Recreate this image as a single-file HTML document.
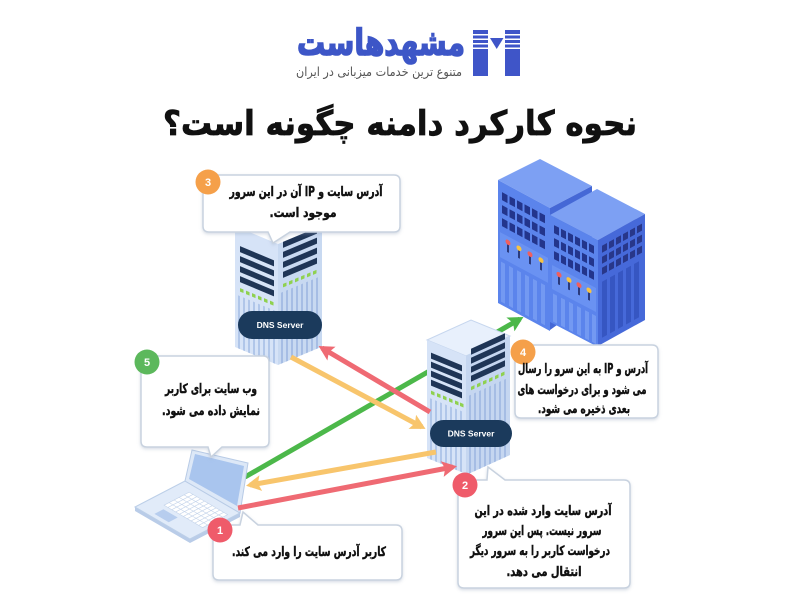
<!DOCTYPE html>
<html><head><meta charset="utf-8">
<style>
html,body{margin:0;padding:0;background:#fff;width:800px;height:600px;overflow:hidden}
svg{display:block}
.fa{font-family:"DejaVu Sans",sans-serif;font-weight:bold;direction:rtl;unicode-bidi:embed}
.bt{font-size:13px;fill:#111;stroke:#111;stroke-width:0.45}
.num{font-family:"Liberation Sans",sans-serif;font-weight:bold;font-size:11px;fill:#fff}
.dns{font-family:"Liberation Sans",sans-serif;font-weight:bold;font-size:8.5px;fill:#fff}
</style></head><body>
<svg width="800" height="600" viewBox="0 0 800 600" xmlns="http://www.w3.org/2000/svg">
<defs>
<marker id="mg" markerWidth="18" markerHeight="18" refX="11" refY="8" orient="auto" markerUnits="userSpaceOnUse"><path d="M0,0 L15,8 L0,16 L3,8 z" fill="#4cb84a"/></marker>
<marker id="mr" markerWidth="18" markerHeight="18" refX="11" refY="8" orient="auto" markerUnits="userSpaceOnUse"><path d="M0,0 L15,8 L0,16 L3,8 z" fill="#ef6a73"/></marker>
<marker id="my" markerWidth="18" markerHeight="18" refX="11" refY="8" orient="auto" markerUnits="userSpaceOnUse"><path d="M0,0 L15,8 L0,16 L3,8 z" fill="#f8c56c"/></marker>
<filter id="sh" x="-10%" y="-10%" width="120%" height="130%"><feDropShadow dx="0" dy="1.5" stdDeviation="1.5" flood-color="#8a9ab5" flood-opacity="0.35"/></filter>
</defs>

<!-- Logo -->
<g fill="#3f55c8">
  <rect x="473" y="30" width="15" height="4"/>
  <rect x="473" y="35.5" width="15" height="3"/>
  <rect x="473" y="40" width="15" height="3"/>
  <rect x="473" y="44.5" width="15" height="3"/>
  <rect x="473" y="49" width="15" height="27"/>
  <rect x="505" y="30" width="15" height="4"/>
  <rect x="505" y="35.5" width="15" height="3"/>
  <rect x="505" y="40" width="15" height="3"/>
  <rect x="505" y="44.5" width="15" height="3"/>
  <rect x="505" y="49" width="15" height="27"/>
  <polygon points="490,38 503.5,38 496.7,49"/>
</g>
<text class="fa" x="381" y="55" font-size="36" fill="#3d56c7" stroke="#3d56c7" stroke-width="1.6" text-anchor="middle" textLength="168" lengthAdjust="spacingAndGlyphs">مشهدهاست</text>
<text class="fa" x="379" y="76" font-size="12.5" fill="#555" style="font-weight:normal" text-anchor="middle" textLength="166" lengthAdjust="spacingAndGlyphs">متنوع ترین خدمات میزبانی در ایران</text>

<!-- Title -->
<text class="fa" x="400" y="135" font-size="34" fill="#111" stroke="#111" stroke-width="0.8" text-anchor="middle" textLength="474" lengthAdjust="spacingAndGlyphs">نحوه کارکرد دامنه چگونه است؟</text>

<!-- Big blue servers -->
<polygon points="498,180 540,159 592,186 550,208" fill="#7da0f3"/>
<polygon points="550,208 592,186 592,300 550,330" fill="#4568d6"/>
<g transform="translate(498,180) skewY(28.3)">
  <rect x="0" y="0" width="52" height="123" fill="#5b84ec"/>
  <g fill="#23358c">
    <rect x="4" y="10" width="5.5" height="8"/><rect x="11.5" y="10" width="5.5" height="8"/><rect x="19" y="10" width="5.5" height="8"/><rect x="26.5" y="10" width="5.5" height="8"/><rect x="34" y="10" width="5.5" height="8"/><rect x="41.5" y="10" width="5.5" height="8"/>
    <rect x="4" y="23" width="5.5" height="8"/><rect x="11.5" y="23" width="5.5" height="8"/><rect x="19" y="23" width="5.5" height="8"/><rect x="26.5" y="23" width="5.5" height="8"/><rect x="34" y="23" width="5.5" height="8"/><rect x="41.5" y="23" width="5.5" height="8"/>
    <rect x="4" y="36" width="5.5" height="8"/><rect x="11.5" y="36" width="5.5" height="8"/><rect x="19" y="36" width="5.5" height="8"/><rect x="26.5" y="36" width="5.5" height="8"/><rect x="34" y="36" width="5.5" height="8"/><rect x="41.5" y="36" width="5.5" height="8"/>
  </g>
  <rect x="2" y="51" width="48" height="25" fill="#6a92f2"/>
  <g fill="#1b2560"><rect x="9.2" y="58" width="1.6" height="9"/><rect x="20.2" y="58" width="1.6" height="9"/><rect x="31.2" y="58" width="1.6" height="9"/><rect x="42.2" y="58" width="1.6" height="9"/></g>
  <circle cx="10" cy="57" r="2.5" fill="#f0605f"/><circle cx="21" cy="57" r="2.5" fill="#f6c344"/><circle cx="32" cy="57" r="2.5" fill="#f0605f"/><circle cx="43" cy="57" r="2.5" fill="#f6c344"/>
  <g fill="#7399f2"><rect x="3" y="80" width="4" height="40"/><rect x="11" y="80" width="4" height="40"/><rect x="19" y="80" width="4" height="40"/><rect x="27" y="80" width="4" height="40"/><rect x="35" y="80" width="4" height="40"/><rect x="43" y="80" width="4" height="40"/></g>
</g>
<polygon points="550,215 597,189 645,214 598,240" fill="#7da0f3"/>
<g transform="translate(550,215) skewY(27.5)">
  <rect x="0" y="0" width="48" height="107" fill="#5b84ec"/>
  <g fill="#23358c">
    <rect x="4" y="8" width="5" height="8"/><rect x="11" y="8" width="5" height="8"/><rect x="18" y="8" width="5" height="8"/><rect x="25" y="8" width="5" height="8"/><rect x="32" y="8" width="5" height="8"/><rect x="39" y="8" width="5" height="8"/>
    <rect x="4" y="21" width="5" height="8"/><rect x="11" y="21" width="5" height="8"/><rect x="18" y="21" width="5" height="8"/><rect x="25" y="21" width="5" height="8"/><rect x="32" y="21" width="5" height="8"/><rect x="39" y="21" width="5" height="8"/>
    <rect x="4" y="34" width="5" height="8"/><rect x="11" y="34" width="5" height="8"/><rect x="18" y="34" width="5" height="8"/><rect x="25" y="34" width="5" height="8"/><rect x="32" y="34" width="5" height="8"/><rect x="39" y="34" width="5" height="8"/>
  </g>
  <rect x="2" y="49" width="44" height="24" fill="#6a92f2"/>
  <g fill="#1b2560"><rect x="8.2" y="56" width="1.6" height="9"/><rect x="18.2" y="56" width="1.6" height="9"/><rect x="28.2" y="56" width="1.6" height="9"/><rect x="38.2" y="56" width="1.6" height="9"/></g>
  <circle cx="9" cy="55" r="2.5" fill="#f0605f"/><circle cx="19" cy="55" r="2.5" fill="#f6c344"/><circle cx="29" cy="55" r="2.5" fill="#f0605f"/><circle cx="39" cy="55" r="2.5" fill="#f6c344"/>
  <g fill="#7399f2"><rect x="3" y="77" width="4" height="28"/><rect x="11" y="77" width="4" height="28"/><rect x="19" y="77" width="4" height="28"/><rect x="27" y="77" width="4" height="28"/><rect x="35" y="77" width="4" height="28"/><rect x="42" y="77" width="4" height="28"/></g>
</g>
<g transform="translate(598,240) skewY(-29)">
  <rect x="0" y="0" width="47" height="106" fill="#4669d9"/>
  <g fill="#28378a">
    <rect x="4" y="8" width="5" height="7"/><rect x="11" y="8" width="5" height="7"/><rect x="18" y="8" width="5" height="7"/><rect x="25" y="8" width="5" height="7"/><rect x="32" y="8" width="5" height="7"/><rect x="39" y="8" width="5" height="7"/>
    <rect x="4" y="19" width="5" height="7"/><rect x="11" y="19" width="5" height="7"/><rect x="18" y="19" width="5" height="7"/><rect x="25" y="19" width="5" height="7"/><rect x="32" y="19" width="5" height="7"/><rect x="39" y="19" width="5" height="7"/>
    <rect x="4" y="30" width="5" height="7"/><rect x="11" y="30" width="5" height="7"/><rect x="18" y="30" width="5" height="7"/><rect x="25" y="30" width="5" height="7"/><rect x="32" y="30" width="5" height="7"/><rect x="39" y="30" width="5" height="7"/>
  </g>
  <g fill="#3656c2"><rect x="4" y="44" width="5" height="56"/><rect x="12" y="44" width="5" height="56"/><rect x="20" y="44" width="5" height="56"/><rect x="28" y="44" width="5" height="56"/><rect x="36" y="44" width="5" height="56"/></g>
</g>

<!-- Green arrow (behind server 2) -->
<line x1="245" y1="477" x2="520" y2="319" stroke="#4cb84a" stroke-width="5" marker-end="url(#mg)"/>

<!-- Server 1 (top DNS) -->
<g transform="translate(235,226) skewY(22.7)">
  <rect x="0" y="0" width="43" height="121" fill="#d6e3f7"/>
  <g fill="#1f3556"><rect x="5" y="18" width="34" height="6"/><rect x="5" y="28" width="34" height="6"/><rect x="5" y="38" width="34" height="6"/><rect x="5" y="48" width="34" height="6"/></g>
  <g fill="#8fd14f"><rect x="5" y="60" width="3.5" height="3.5"/><rect x="11" y="60" width="3.5" height="3.5"/><rect x="17" y="60" width="3.5" height="3.5"/><rect x="23" y="60" width="3.5" height="3.5"/><rect x="29" y="60" width="3.5" height="3.5"/><rect x="35" y="60" width="3.5" height="3.5"/></g>
  <g fill="#b0c6e9"><rect x="3" y="68" width="2" height="53"/><rect x="8" y="68" width="2" height="53"/><rect x="13" y="68" width="2" height="53"/><rect x="18" y="68" width="2" height="53"/><rect x="23" y="68" width="2" height="53"/><rect x="28" y="68" width="2" height="53"/><rect x="33" y="68" width="2" height="53"/><rect x="38" y="68" width="2" height="53"/></g>
</g>
<g transform="translate(278,244) skewY(-22.7)">
  <rect x="0" y="0" width="44" height="121" fill="#c8d9f1"/>
  <g fill="#1f3556"><rect x="5" y="0" width="34" height="6"/><rect x="5" y="10" width="34" height="6"/><rect x="5" y="20" width="34" height="6"/><rect x="5" y="30" width="34" height="6"/></g>
  <g fill="#8fd14f"><rect x="5" y="42" width="3.5" height="3.5"/><rect x="11" y="42" width="3.5" height="3.5"/><rect x="17" y="42" width="3.5" height="3.5"/><rect x="23" y="42" width="3.5" height="3.5"/><rect x="29" y="42" width="3.5" height="3.5"/><rect x="35" y="42" width="3.5" height="3.5"/></g>
  <g fill="#a6bde4"><rect x="3" y="50" width="2" height="71"/><rect x="8" y="50" width="2" height="71"/><rect x="13" y="50" width="2" height="71"/><rect x="18" y="50" width="2" height="71"/><rect x="23" y="50" width="2" height="71"/><rect x="28" y="50" width="2" height="71"/><rect x="33" y="50" width="2" height="71"/><rect x="38" y="50" width="2" height="71"/></g>
</g>
<rect x="238" y="311" width="84" height="28" rx="14" fill="#1b3a5c"/>
<text class="dns" x="280" y="328" text-anchor="middle">DNS Server</text>

<!-- Server 2 (middle DNS) -->
<polygon points="427,340 471,320 510,336 466,356" fill="#e8f0fc" stroke="#c6d6ee" stroke-width="1"/>
<g transform="translate(427,340) skewY(22.3)">
  <rect x="0" y="0" width="39" height="118" fill="#d6e3f7"/>
  <g fill="#1f3556"><rect x="4" y="11" width="31" height="6"/><rect x="4" y="20" width="31" height="6"/><rect x="4" y="29" width="31" height="6"/><rect x="4" y="38" width="31" height="6"/></g>
  <g fill="#8fd14f"><rect x="4" y="49" width="3.5" height="3.5"/><rect x="10" y="49" width="3.5" height="3.5"/><rect x="16" y="49" width="3.5" height="3.5"/><rect x="22" y="49" width="3.5" height="3.5"/><rect x="28" y="49" width="3.5" height="3.5"/><rect x="33" y="49" width="3.5" height="3.5"/></g>
  <g fill="#b0c6e9"><rect x="3" y="57" width="2" height="61"/><rect x="8" y="57" width="2" height="61"/><rect x="13" y="57" width="2" height="61"/><rect x="18" y="57" width="2" height="61"/><rect x="23" y="57" width="2" height="61"/><rect x="28" y="57" width="2" height="61"/><rect x="33" y="57" width="2" height="61"/></g>
</g>
<g transform="translate(466,356) skewY(-24.4)">
  <rect x="0" y="0" width="44" height="119" fill="#c5d6f0"/>
  <g fill="#1f3556"><rect x="5" y="-5" width="34" height="6"/><rect x="5" y="4" width="34" height="6"/><rect x="5" y="13" width="34" height="6"/><rect x="5" y="22" width="34" height="6"/></g>
  <g fill="#8fd14f"><rect x="5" y="33" width="3.5" height="3.5"/><rect x="11" y="33" width="3.5" height="3.5"/><rect x="17" y="33" width="3.5" height="3.5"/><rect x="23" y="33" width="3.5" height="3.5"/><rect x="29" y="33" width="3.5" height="3.5"/><rect x="35" y="33" width="3.5" height="3.5"/></g>
  <g fill="#a6bde4"><rect x="3" y="41" width="2" height="78"/><rect x="8" y="41" width="2" height="78"/><rect x="13" y="41" width="2" height="78"/><rect x="18" y="41" width="2" height="78"/><rect x="23" y="41" width="2" height="78"/><rect x="28" y="41" width="2" height="78"/><rect x="33" y="41" width="2" height="78"/><rect x="38" y="41" width="2" height="78"/></g>
</g>
<rect x="430" y="420" width="82" height="27" rx="13.5" fill="#1b3a5c"/>
<text class="dns" x="471" y="436.5" text-anchor="middle">DNS Server</text>

<!-- Laptop -->
<polygon points="135,507 190,539 240,513 240,517 190,543 135,511" fill="#b9cce8"/>
<polygon points="135,507 185,481 240,513 190,539" fill="#e1ebf9" stroke="#bccfe8" stroke-width="1"/>
<g transform="matrix(0.55,0.32,0.5,-0.26,135,507)">
  <rect x="28" y="8" width="26" height="18" fill="#b7cdee"/>
  <g fill="#fff" stroke="#c3d3ea" stroke-width="1.2">
    <rect x="22" y="34" width="70" height="50"/>
  </g>
  <g stroke="#c3d3ea" stroke-width="1.2">
    <line x1="22" y1="44" x2="92" y2="44"/><line x1="22" y1="54" x2="92" y2="54"/><line x1="22" y1="64" x2="92" y2="64"/><line x1="22" y1="74" x2="92" y2="74"/>
    <line x1="29" y1="34" x2="29" y2="84"/><line x1="36" y1="34" x2="36" y2="84"/><line x1="43" y1="34" x2="43" y2="84"/><line x1="50" y1="34" x2="50" y2="84"/><line x1="57" y1="34" x2="57" y2="84"/><line x1="64" y1="34" x2="64" y2="84"/><line x1="71" y1="34" x2="71" y2="84"/><line x1="78" y1="34" x2="78" y2="84"/><line x1="85" y1="34" x2="85" y2="84"/>
  </g>
</g>
<polygon points="185,481 192,450 248,463 240,513" fill="#dde8f7" stroke="#b8cbe6" stroke-width="1"/>
<polygon points="189,479 195,454 244,466 237,506" fill="#a9c5ee"/>

<!-- Remaining arrows -->
<line x1="430" y1="412" x2="322" y2="348" stroke="#ef6a73" stroke-width="5" marker-end="url(#mr)"/>
<line x1="291" y1="357" x2="422" y2="427" stroke="#f8c56c" stroke-width="5" marker-end="url(#my)"/>
<line x1="436" y1="452" x2="250" y2="485" stroke="#f8c56c" stroke-width="5" marker-end="url(#my)"/>
<line x1="238" y1="508" x2="453" y2="467" stroke="#ef6a73" stroke-width="5" marker-end="url(#mr)"/>

<!-- Bubbles -->
<g fill="#fff" stroke="#c8d2df" stroke-width="1.5" filter="url(#sh)">
  <path d="M209,175 H394 Q400,175 400,181 V226 Q400,232 394,232 H290 L273,243 L268,232 H209 Q203,232 203,226 V181 Q203,175 209,175 Z"/>
  <path d="M521,345 H652 Q658,345 658,351 V412 Q658,418 652,418 H521 Q515,418 515,412 V351 Q515,345 521,345 Z"/>
  <path d="M147,356 H263 Q269,356 269,362 V441 Q269,447 263,447 H222 L211,457 L208,447 H147 Q141,447 141,441 V362 Q141,356 147,356 Z"/>
  <path d="M219,525 H240 L243,512 L258,525 H396 Q402,525 402,531 V574 Q402,580 396,580 H219 Q213,580 213,574 V531 Q213,525 219,525 Z"/>
  <path d="M464,480 H487 L488,467 L505,480 H624 Q630,480 630,486 V582 Q630,588 624,588 H464 Q458,588 458,582 V486 Q458,480 464,480 Z"/>
</g>

<!-- Badges -->
<circle cx="208" cy="182" r="12.5" fill="#f5a04a"/><text class="num" x="208" y="186" text-anchor="middle">3</text>
<circle cx="523" cy="352" r="12.5" fill="#f5a04a"/><text class="num" x="523" y="356" text-anchor="middle">4</text>
<circle cx="147" cy="362" r="12.5" fill="#5cb85c"/><text class="num" x="147" y="366" text-anchor="middle">5</text>
<circle cx="220" cy="530" r="12.5" fill="#ef5b6a"/><text class="num" x="220" y="534" text-anchor="middle">1</text>
<circle cx="465" cy="485" r="12.5" fill="#ef5b6a"/><text class="num" x="465" y="489" text-anchor="middle">2</text>

<!-- Bubble texts -->
<text class="fa bt" x="306" y="196" text-anchor="middle" textLength="153" lengthAdjust="spacingAndGlyphs">آدرس سایت و IP آن در این سرور</text>
<text class="fa bt" x="303" y="217" text-anchor="middle" textLength="67" lengthAdjust="spacingAndGlyphs">موجود است.</text>

<text class="fa bt" x="583" y="373" text-anchor="middle" textLength="130" lengthAdjust="spacingAndGlyphs">آدرس و IP به این سرو را رسال</text>
<text class="fa bt" x="582" y="394" text-anchor="middle" textLength="129" lengthAdjust="spacingAndGlyphs">می شود و برای درخواست های</text>
<text class="fa bt" x="584" y="413" text-anchor="middle" textLength="92" lengthAdjust="spacingAndGlyphs">بعدی ذخیره می شود.</text>

<text class="fa bt" x="211" y="393" text-anchor="middle" textLength="92" lengthAdjust="spacingAndGlyphs">وب سایت برای کاربر</text>
<text class="fa bt" x="211" y="415" text-anchor="middle" textLength="98" lengthAdjust="spacingAndGlyphs">نمایش داده می شود.</text>

<text class="fa bt" x="309" y="556" text-anchor="middle" textLength="154" lengthAdjust="spacingAndGlyphs">کاربر آدرس سایت را وارد می کند.</text>

<text class="fa bt" x="543" y="515" text-anchor="middle" textLength="137" lengthAdjust="spacingAndGlyphs">آدرس سایت وارد شده در این</text>
<text class="fa bt" x="542" y="535" text-anchor="middle" textLength="119" lengthAdjust="spacingAndGlyphs">سرور نیست. پس این سرور</text>
<text class="fa bt" x="540" y="555" text-anchor="middle" textLength="140" lengthAdjust="spacingAndGlyphs">درخواست کاربر را به سرور دیگر</text>
<text class="fa bt" x="544" y="576" text-anchor="middle" textLength="75" lengthAdjust="spacingAndGlyphs">انتقال می دهد.</text>
</svg>
</body></html>
